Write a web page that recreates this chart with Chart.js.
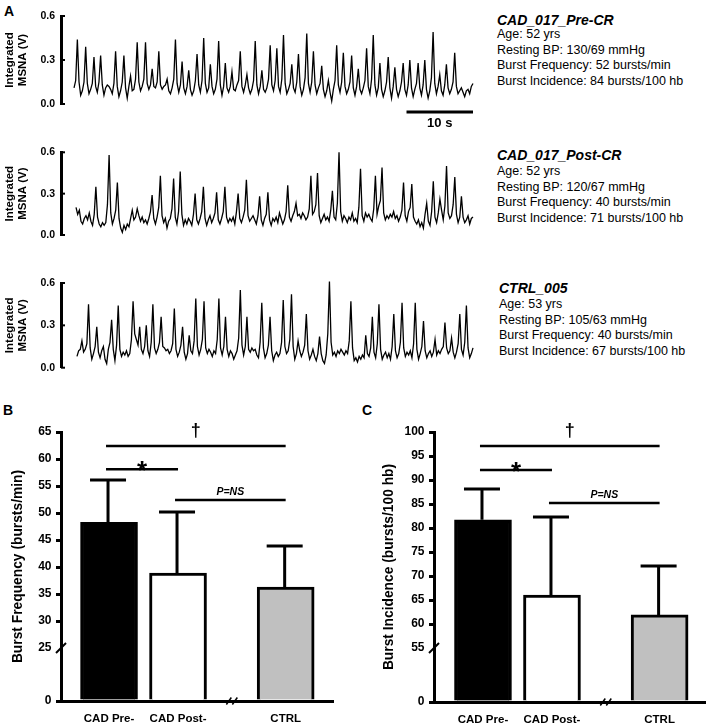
<!DOCTYPE html>
<html>
<head>
<meta charset="utf-8">
<script src="https://cdn.jsdelivr.net/npm/chart.js@4.4.1/dist/chart.umd.min.js"></script>
<style>
  body { margin: 0; background: #fff; font-family: "Liberation Sans", Arial, sans-serif; color: #000; }
  #page { position: relative; width: 709px; height: 726px; overflow: hidden; }
  canvas { position: absolute; }
  .panel { position: absolute; font-weight: bold; font-size: 14px; line-height: 16px; }
  .head { position: absolute; font-weight: bold; font-style: italic; font-size: 14px; line-height: 16px; white-space: nowrap; }
  .info { position: absolute; font-size: 12.5px; line-height: 15.5px; white-space: nowrap; }
</style>
</head>
<body>
<div id="page">
  <div class="panel" style="left:4px; top:3px;">A</div>
  <div class="panel" style="left:3px; top:402px;">B</div>
  <div class="panel" style="left:362px; top:402px;">C</div>

  <canvas id="trace1" width="480" height="135" style="left:0; top:0;"></canvas>
  <canvas id="trace2" width="480" height="110" style="left:0; top:140px;"></canvas>
  <canvas id="trace3" width="480" height="115" style="left:0; top:265px;"></canvas>

  <div class="head" style="left:497px; top:12px;">CAD_017_Pre-CR</div>
  <div class="info" style="left:497px; top:27px;">Age: 52 yrs<br>Resting BP: 130/69 mmHg<br>Burst Frequency: 52 bursts/min<br>Burst Incidence: 84 bursts/100 hb</div>
  <div class="head" style="left:497px; top:147px;">CAD_017_Post-CR</div>
  <div class="info" style="left:497px; top:164px;">Age: 52 yrs<br>Resting BP: 120/67 mmHg<br>Burst Frequency: 40 bursts/min<br>Burst Incidence: 71 bursts/100 hb</div>
  <div class="head" style="left:499px; top:280px;">CTRL_005</div>
  <div class="info" style="left:499px; top:297px;">Age: 53 yrs<br>Resting BP: 105/63 mmHg<br>Burst Frequency: 40 bursts/min<br>Burst Incidence: 67 bursts/100 hb</div>

  <canvas id="freqChart" width="355" height="341" style="left:0; top:385px;"></canvas>
  <canvas id="incChart" width="349" height="341" style="left:360px; top:385px;"></canvas>
</div>

<script>
// échantillons des tracés MSNA (V), un point toutes les 0,25 s sur 60 s
const sampleStep = 0.25;
const trace1 = [
  0.11,0.16,0.44,0.15,0.06,0.09,0.15,0.39,0.14,0.07,
  0.10,0.14,0.32,0.12,0.08,0.15,0.33,0.13,0.06,0.11,
  0.13,0.12,0.10,0.07,0.14,0.36,0.12,0.05,0.09,0.15,
  0.33,0.11,0.04,0.12,0.19,0.09,0.10,0.17,0.42,0.15,
  0.09,0.12,0.17,0.42,0.14,0.10,0.13,0.24,0.12,0.11,
  0.15,0.36,0.13,0.10,0.12,0.13,0.17,0.09,0.07,0.11,
  0.17,0.44,0.14,0.08,0.13,0.29,0.11,0.07,0.12,0.23,
  0.10,0.06,0.09,0.16,0.34,0.13,0.08,0.16,0.45,0.14,
  0.08,0.11,0.27,0.12,0.07,0.10,0.17,0.43,0.13,0.06,
  0.12,0.28,0.11,0.08,0.12,0.22,0.10,0.09,0.13,0.16,
  0.36,0.12,0.08,0.13,0.20,0.11,0.07,0.10,0.16,0.43,
  0.13,0.07,0.12,0.23,0.10,0.08,0.11,0.17,0.40,0.13,
  0.09,0.16,0.38,0.12,0.08,0.17,0.47,0.14,0.07,0.10,
  0.14,0.27,0.11,0.08,0.15,0.34,0.12,0.06,0.10,0.18,
  0.48,0.14,0.08,0.15,0.36,0.13,0.07,0.11,0.14,0.26,
  0.10,0.05,0.09,0.16,0.08,0.02,0.10,0.16,0.40,0.13,
  0.08,0.15,0.35,0.12,0.07,0.10,0.15,0.33,0.11,0.06,
  0.12,0.24,0.10,0.07,0.11,0.16,0.38,0.12,0.07,0.17,
  0.47,0.13,0.06,0.11,0.28,0.10,0.05,0.09,0.15,0.32,
  0.11,0.04,0.12,0.25,0.10,0.05,0.09,0.15,0.28,0.10,
  0.06,0.13,0.30,0.11,0.05,0.10,0.14,0.28,0.11,0.06,
  0.13,0.30,0.10,0.04,0.09,0.18,0.49,0.14,0.07,0.12,
  0.20,0.09,0.06,0.13,0.27,0.11,0.07,0.10,0.15,0.35,
  0.12,0.07,0.09,0.11,0.08,0.05,0.09,0.10,0.07,0.12,
  0.14
];
const trace2 = [
  0.20,0.15,0.18,0.10,0.08,0.12,0.14,0.11,0.16,0.10,
  0.07,0.15,0.35,0.13,0.08,0.06,0.09,0.07,0.09,0.22,
  0.58,0.16,0.08,0.12,0.18,0.38,0.12,0.05,0.02,0.07,
  0.04,0.08,0.06,0.12,0.18,0.11,0.13,0.19,0.14,0.10,
  0.13,0.09,0.11,0.08,0.12,0.17,0.29,0.12,0.08,0.13,
  0.20,0.43,0.14,0.09,0.12,0.05,0.10,0.12,0.19,0.41,
  0.13,0.08,0.17,0.46,0.15,0.07,0.11,0.08,0.12,0.10,
  0.07,0.15,0.30,0.11,0.08,0.12,0.17,0.35,0.12,0.07,
  0.11,0.14,0.09,0.12,0.16,0.31,0.11,0.08,0.12,0.17,
  0.35,0.13,0.09,0.12,0.10,0.13,0.08,0.17,0.30,0.12,
  0.09,0.13,0.18,0.40,0.14,0.10,0.12,0.14,0.11,0.08,
  0.14,0.28,0.11,0.07,0.12,0.15,0.31,0.11,0.07,0.12,
  0.10,0.13,0.09,0.16,0.12,0.08,0.11,0.17,0.36,0.13,
  0.10,0.14,0.17,0.23,0.14,0.15,0.12,0.16,0.14,0.11,
  0.13,0.19,0.43,0.15,0.17,0.22,0.45,0.14,0.09,0.12,
  0.15,0.11,0.13,0.10,0.18,0.32,0.13,0.11,0.23,0.60,
  0.17,0.10,0.14,0.12,0.09,0.13,0.11,0.16,0.10,0.12,
  0.09,0.20,0.48,0.14,0.10,0.16,0.13,0.15,0.12,0.10,
  0.19,0.43,0.15,0.21,0.25,0.49,0.16,0.11,0.14,0.12,
  0.15,0.13,0.17,0.12,0.14,0.10,0.13,0.18,0.38,0.14,
  0.10,0.17,0.20,0.37,0.13,0.10,0.08,0.11,0.06,0.09,
  0.05,0.15,0.23,0.10,0.07,0.17,0.39,0.13,0.09,0.16,
  0.26,0.18,0.11,0.21,0.50,0.16,0.12,0.14,0.22,0.42,
  0.15,0.09,0.13,0.28,0.13,0.09,0.11,0.14,0.08,0.12,
  0.13
];
const trace3 = [
  0.08,0.12,0.13,0.19,0.11,0.13,0.17,0.45,0.14,0.06,
  0.10,0.15,0.29,0.11,0.07,0.12,0.15,0.06,0.03,0.13,
  0.18,0.34,0.13,0.05,0.16,0.44,0.13,0.08,0.11,0.09,
  0.12,0.08,0.10,0.20,0.47,0.24,0.20,0.16,0.29,0.13,
  0.10,0.15,0.30,0.12,0.08,0.18,0.45,0.14,0.10,0.13,
  0.18,0.36,0.15,0.14,0.12,0.13,0.10,0.12,0.17,0.42,
  0.13,0.08,0.11,0.16,0.29,0.11,0.06,0.10,0.23,0.12,
  0.10,0.19,0.49,0.15,0.09,0.13,0.20,0.47,0.14,0.10,
  0.13,0.11,0.08,0.12,0.10,0.20,0.49,0.14,0.09,0.15,
  0.36,0.13,0.08,0.12,0.10,0.06,0.09,0.12,0.21,0.55,
  0.16,0.09,0.15,0.36,0.13,0.11,0.14,0.12,0.13,0.09,
  0.07,0.18,0.46,0.14,0.07,0.10,0.16,0.36,0.12,0.05,
  0.09,0.11,0.08,0.10,0.18,0.48,0.15,0.10,0.12,0.20,
  0.52,0.15,0.06,0.10,0.19,0.12,0.08,0.11,0.16,0.38,
  0.12,0.06,0.09,0.13,0.08,0.05,0.10,0.22,0.10,0.05,
  0.03,0.09,0.24,0.61,0.18,0.09,0.11,0.08,0.12,0.10,
  0.13,0.11,0.09,0.12,0.10,0.19,0.47,0.14,0.05,0.07,
  0.04,0.08,0.06,0.09,0.07,0.23,0.10,0.08,0.14,0.36,
  0.11,0.07,0.17,0.45,0.13,0.06,0.09,0.11,0.07,0.10,
  0.06,0.15,0.38,0.12,0.07,0.10,0.18,0.46,0.14,0.08,
  0.11,0.09,0.12,0.07,0.17,0.46,0.13,0.06,0.10,0.15,
  0.33,0.12,0.07,0.10,0.12,0.08,0.11,0.20,0.09,0.12,
  0.10,0.13,0.15,0.32,0.14,0.10,0.12,0.21,0.11,0.07,
  0.11,0.17,0.38,0.13,0.09,0.18,0.44,0.14,0.07,0.10,
  0.14
];
const voltTicks = [0, 0.3, 0.6];
const scaleBarSec = 10;

// groupes et moyennes des panneaux B et C
const groups = ['CAD Pre-', 'CAD Post-', 'CTRL'];
const groupPos = [1, 2, 3.56];
const freqMean = [48.3, 38.9, 36.3];
const freqErr = [7.8, 11.3, 7.6];
const freqTicks = [25, 30, 35, 40, 45, 50, 55, 60, 65];
const incMean = [81.7, 66.0, 61.9];
const incErr = [6.4, 16.3, 10.2];
const incTicks = [55, 60, 65, 70, 75, 80, 85, 90, 95, 100];
const sigPairs = [[0, 2], [0, 1], [1, 2]];
const sigLabels = ['†', '*', 'P=NS'];
const freqSigY = [62.4, 58.1, 52.4];
const incSigY = [97.1, 92.1, 85.2];

const FONT = '"Liberation Sans", Arial, sans-serif';
Chart.defaults.font.family = FONT;
Chart.defaults.color = '#000';

// petits traits des graduations et barre d'échelle
const traceDecor = {
  id: 'traceDecor',
  afterDraw(chart, args, opts) {
    const { ctx, chartArea, scales: { x, y } } = chart;
    ctx.save();
    ctx.strokeStyle = '#000';
    ctx.lineWidth = 2;
    voltTicks.forEach(v => {
      const py = y.getPixelForValue(v);
      ctx.beginPath();
      ctx.moveTo(chartArea.left, py);
      ctx.lineTo(chartArea.left + 4, py);
      ctx.stroke();
    });
    if (opts.scaleBar) {
      const x1 = x.getPixelForValue(60 - scaleBarSec);
      const x2 = x.getPixelForValue(60);
      const by = chartArea.bottom + 8;
      ctx.lineWidth = 3;
      ctx.beginPath();
      ctx.moveTo(x1, by);
      ctx.lineTo(x2, by);
      ctx.stroke();
      ctx.fillStyle = '#000';
      ctx.font = 'bold 13px ' + FONT;
      ctx.textAlign = 'center';
      ctx.textBaseline = 'middle';
      ctx.fillText(scaleBarSec + ' s', (x1 + x2) / 2, by + 11);
    }
    ctx.restore();
  }
};

function traceChart(id, values, xStart, padTop, padBottom, scaleBar) {
  return new Chart(document.getElementById(id), {
    type: 'line',
    data: {
      datasets: [{
        data: values.map((v, i) => ({ x: i * sampleStep, y: v })),
        borderColor: '#000',
        borderWidth: 1.3,
        pointRadius: 0,
        tension: 0,
        clip: false
      }]
    },
    options: {
      responsive: false,
      animation: false,
      layout: { padding: { top: padTop, bottom: padBottom, left: 0, right: 7 } },
      plugins: { legend: { display: false }, tooltip: { enabled: false }, traceDecor: { scaleBar: scaleBar } },
      scales: {
        x: { type: 'linear', min: xStart, max: 60, display: false },
        y: {
          min: 0, max: 0.6,
          afterBuildTicks: s => { s.ticks = voltTicks.map(v => ({ value: v })); },
          afterFit: s => { s.width = 61; },
          ticks: { callback: v => v.toFixed(1), font: { size: 10.5, weight: 'bold' }, padding: 6, color: '#000' },
          grid: { display: false, drawTicks: false },
          border: { display: true, width: 3, color: '#000' },
          title: { display: true, text: ['Integrated', 'MSNA (V)'], font: { size: 11.5, weight: 'bold' }, padding: { top: 2.5, bottom: 0 }, color: '#000' }
        }
      }
    },
    plugins: [traceDecor]
  });
}

traceChart('trace1', trace1, -1.96, 16, 31, true);
traceChart('trace2', trace2, -2.27, 7, 15, false);
traceChart('trace3', trace3, -2.42, 18, 9, false);

// barres d'erreur, comparaisons et coupures d'axes
const barDecor = {
  id: 'barDecor',
  afterDatasetsDraw(chart, args, o) {
    const { ctx, chartArea, scales: { x, y } } = chart;
    ctx.save();
    ctx.strokeStyle = '#000';
    ctx.fillStyle = '#000';
    ctx.lineCap = 'butt';
    ctx.lineWidth = 3;
    groupPos.forEach((p, i) => {
      const px = x.getPixelForValue(p) - 1;
      const yTop = y.getPixelForValue(o.mean[i]);
      const yErr = y.getPixelForValue(o.mean[i] + o.err[i]);
      ctx.beginPath();
      ctx.moveTo(px, yTop);
      ctx.lineTo(px, yErr);
      ctx.moveTo(px - 18, yErr);
      ctx.lineTo(px + 18, yErr);
      ctx.stroke();
    });

    ctx.textAlign = 'center';
    sigPairs.forEach(([a, b], k) => {
      const x1 = x.getPixelForValue(groupPos[a]) - 3;
      const x2 = x.getPixelForValue(groupPos[b]);
      const py = y.getPixelForValue(o.sigY[k]);
      ctx.lineWidth = 2.5;
      ctx.beginPath();
      ctx.moveTo(x1, py);
      ctx.lineTo(x2, py);
      ctx.stroke();
      const cx = (x1 + x2) / 2;
      ctx.textBaseline = 'alphabetic';
      if (k === 0) {
        ctx.font = 'bold 18px ' + FONT;
        ctx.fillText(sigLabels[k], cx, py - 10);
      } else if (k === 1) {
        ctx.font = 'bold 26px ' + FONT;
        ctx.fillText(sigLabels[k], cx, py + 10);
      } else {
        ctx.font = 'italic bold 10.5px ' + FONT;
        ctx.fillText(sigLabels[k], cx, py - 5);
      }
    });

    // coupure de l'axe y
    const bx = chartArea.left;
    const by = y.getPixelForValue(o.breakAt);
    ctx.lineWidth = 2;
    ctx.beginPath();
    ctx.moveTo(bx - 5, by + 5);
    ctx.lineTo(bx + 5, by - 5);
    ctx.stroke();

    // coupure de l'axe x
    const gx = x.getPixelForValue(o.xBreak);
    const gy = chartArea.bottom;
    ctx.lineWidth = 1.5;
    [-3, 3].forEach(d => {
      ctx.beginPath();
      ctx.moveTo(gx + d - 2.5, gy + 3.5);
      ctx.lineTo(gx + d + 2.5, gy - 3.5);
      ctx.stroke();
    });
    ctx.restore();
  }
};

function barChart(id, cfg) {
  return new Chart(document.getElementById(id), {
    type: 'bar',
    data: {
      datasets: [{
        data: groupPos.map((p, i) => ({ x: p, y: cfg.mean[i] })),
        backgroundColor: ['#000000', '#ffffff', '#c0c0c0'],
        borderColor: '#000',
        borderWidth: 3,
        barThickness: 57,
        base: cfg.yMin
      }]
    },
    options: {
      responsive: false,
      animation: false,
      layout: { padding: { top: 47, bottom: 0, left: 0, right: cfg.padRight } },
      plugins: {
        legend: { display: false }, tooltip: { enabled: false },
        barDecor: { mean: cfg.mean, err: cfg.err, sigY: cfg.sigY, breakAt: cfg.ticks[0], xBreak: 2.78 }
      },
      scales: {
        x: {
          type: 'linear', min: cfg.xMin, max: cfg.xMax, offset: false,
          afterBuildTicks: s => { s.ticks = groupPos.map(v => ({ value: v })); },
          afterFit: s => { s.height = cfg.xHeight; },
          ticks: { callback: v => groups[groupPos.indexOf(v)], font: { size: 11.5, weight: 'bold' }, padding: 11, autoSkip: false, maxRotation: 0, color: '#000' },
          grid: { drawOnChartArea: false, drawTicks: false, offset: false },
          border: { width: 3, color: '#000' }
        },
        y: {
          min: cfg.yMin, max: cfg.yMax,
          afterBuildTicks: s => { s.ticks = [cfg.yMin].concat(cfg.ticks).map(v => ({ value: v })); },
          afterFit: s => { s.width = cfg.axisLeft; },
          ticks: { callback: v => (v === cfg.yMin ? '0' : v), font: { size: 12, weight: 'bold' }, padding: 4.5, autoSkip: false, color: '#000' },
          grid: {
            drawOnChartArea: false, tickLength: 5, lineWidth: 3, tickWidth: 3,
            tickColor: c => (c.tick && c.tick.value === cfg.ticks[0] ? 'rgba(0,0,0,0)' : '#000')
          },
          border: { width: 3, color: '#000' },
          title: { display: true, text: cfg.title, font: { size: 13.8, weight: 'bold' }, padding: { top: cfg.titlePad, bottom: 0 }, color: '#000' }
        }
      }
    },
    plugins: [barDecor]
  });
}

barChart('freqChart', {
  mean: freqMean, err: freqErr, sigY: freqSigY, ticks: freqTicks,
  yMin: 15.2, yMax: 65, xMin: 0.304, xMax: 4.246,
  axisLeft: 61, padRight: 22, xHeight: 25, titlePad: 9.7,
  title: 'Burst Frequency (bursts/min)'
});
barChart('incChart', {
  mean: incMean, err: incErr, sigY: incSigY, ticks: incTicks,
  yMin: 43.75, yMax: 100, xMin: 0.29, xMax: 4.218,
  axisLeft: 74, padRight: 4, xHeight: 24, titlePad: 20.7,
  title: 'Burst Incidence (bursts/100 hb)'
});
</script>
</body>
</html>
